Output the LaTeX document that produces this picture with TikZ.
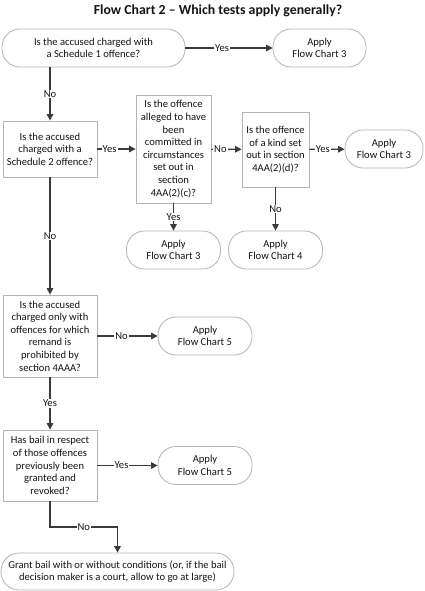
\documentclass[tikz,border=0pt]{standalone}
\usepackage{fontspec}
\setmainfont{Carlito}
\usetikzlibrary{arrows.meta}
\definecolor{boxline}{HTML}{B4B4B4}
\definecolor{arrowc}{HTML}{3A3A3A}
\definecolor{txt}{HTML}{141414}
\tikzset{
  base/.style={draw=boxline, line width=0.8pt, fill=white, align=center, inner sep=1pt, text=txt,
    font=\fontsize{10.6}{12.6}\selectfont},
  qbox/.style={base, rectangle},
  term/.style={base, rectangle, rounded corners=18pt, minimum height=38pt},
  conn/.style={draw=arrowc, line width=1.2pt, -{Triangle[length=6.5pt,width=6.5pt]}},
  lab/.style={fill=white, inner sep=1pt, text=txt, font=\fontsize{10.6}{12}\selectfont}
}
\begin{document}
\begin{tikzpicture}[x=1pt,y=-1pt]
\useasboundingbox (0,0) rectangle (424,591);
\node[font=\bfseries\fontsize{13.8}{16}\selectfont, text=txt] (title) at (218,11) {Flow Chart 2 – Which tests apply generally?};
\node[term, minimum width=183pt] (A) at (93.5,48) {Is the accused charged with\\a Schedule 1 offence?};
\node[term, minimum width=93pt] (A3) at (319.5,48) {Apply\\Flow Chart 3};
\node[qbox, minimum width=94pt, minimum height=56pt] (B) at (50,149) {Is the accused\\charged with a\\Schedule 2 offence?};
\node[qbox, minimum width=75pt, minimum height=108pt] (C) at (173.5,149) {Is the offence\\alleged to have\\been\\committed in\\circumstances\\set out in\\section\\4AA(2)(c)?};
\node[qbox, minimum width=67pt, minimum height=75pt] (D) at (275.5,149.5) {Is the offence\\of a kind set\\out in section\\4AA(2)(d)?};
\node[term, minimum width=78pt] (E) at (384,149) {Apply\\Flow Chart 3};
\node[term, minimum width=94pt] (F) at (173.5,250) {Apply\\Flow Chart 3};
\node[term, minimum width=94pt] (G) at (275.5,250) {Apply\\Flow Chart 4};
\node[qbox, minimum width=94pt, minimum height=82pt] (H) at (50,336) {Is the accused\\charged only with\\offences for which\\remand is\\prohibited by\\section 4AAA?};
\node[term, minimum width=94pt] (I) at (205,336) {Apply\\Flow Chart 5};
\node[qbox, minimum width=94pt, minimum height=71pt] (J) at (50,465.5) {Has bail in respect\\of those offences\\previously been\\granted and\\revoked?};
\node[term, minimum width=94pt] (K) at (205,465.5) {Apply\\Flow Chart 5};
\node[term, minimum width=233pt, minimum height=37pt] (L) at (117.5,571.5) {Grant bail with or without conditions (or, if the bail\\decision maker is a court, allow to go at large)};

\draw[conn] (A) -- node[lab, pos=0.42] {Yes} (A3);
\draw[conn] (B.north |- A.south) -- node[lab] {No} (B.north);
\draw[conn] (B) -- node[lab, pos=0.32] {Yes} (C);
\draw[conn] (C) -- node[lab, pos=0.3] {No} (D);
\draw[conn] (D) -- node[lab, pos=0.38] {Yes} (E);
\draw[conn] (C) -- node[lab] {Yes} (F);
\draw[conn] (D) -- node[lab] {No} (G);
\draw[conn] (B) -- node[lab] {No} (H);
\draw[conn] (H) -- node[lab, pos=0.4] {No} (I);
\draw[conn] (H) -- node[lab] {Yes} (J);
\draw[conn] (J) -- node[lab, pos=0.4] {Yes} (K);
\coordinate (bend) at (50,527);
\draw[conn] (J.south) -- (bend) -| node[lab, pos=0.25] {No} (L.north);
\end{tikzpicture}
\end{document}
